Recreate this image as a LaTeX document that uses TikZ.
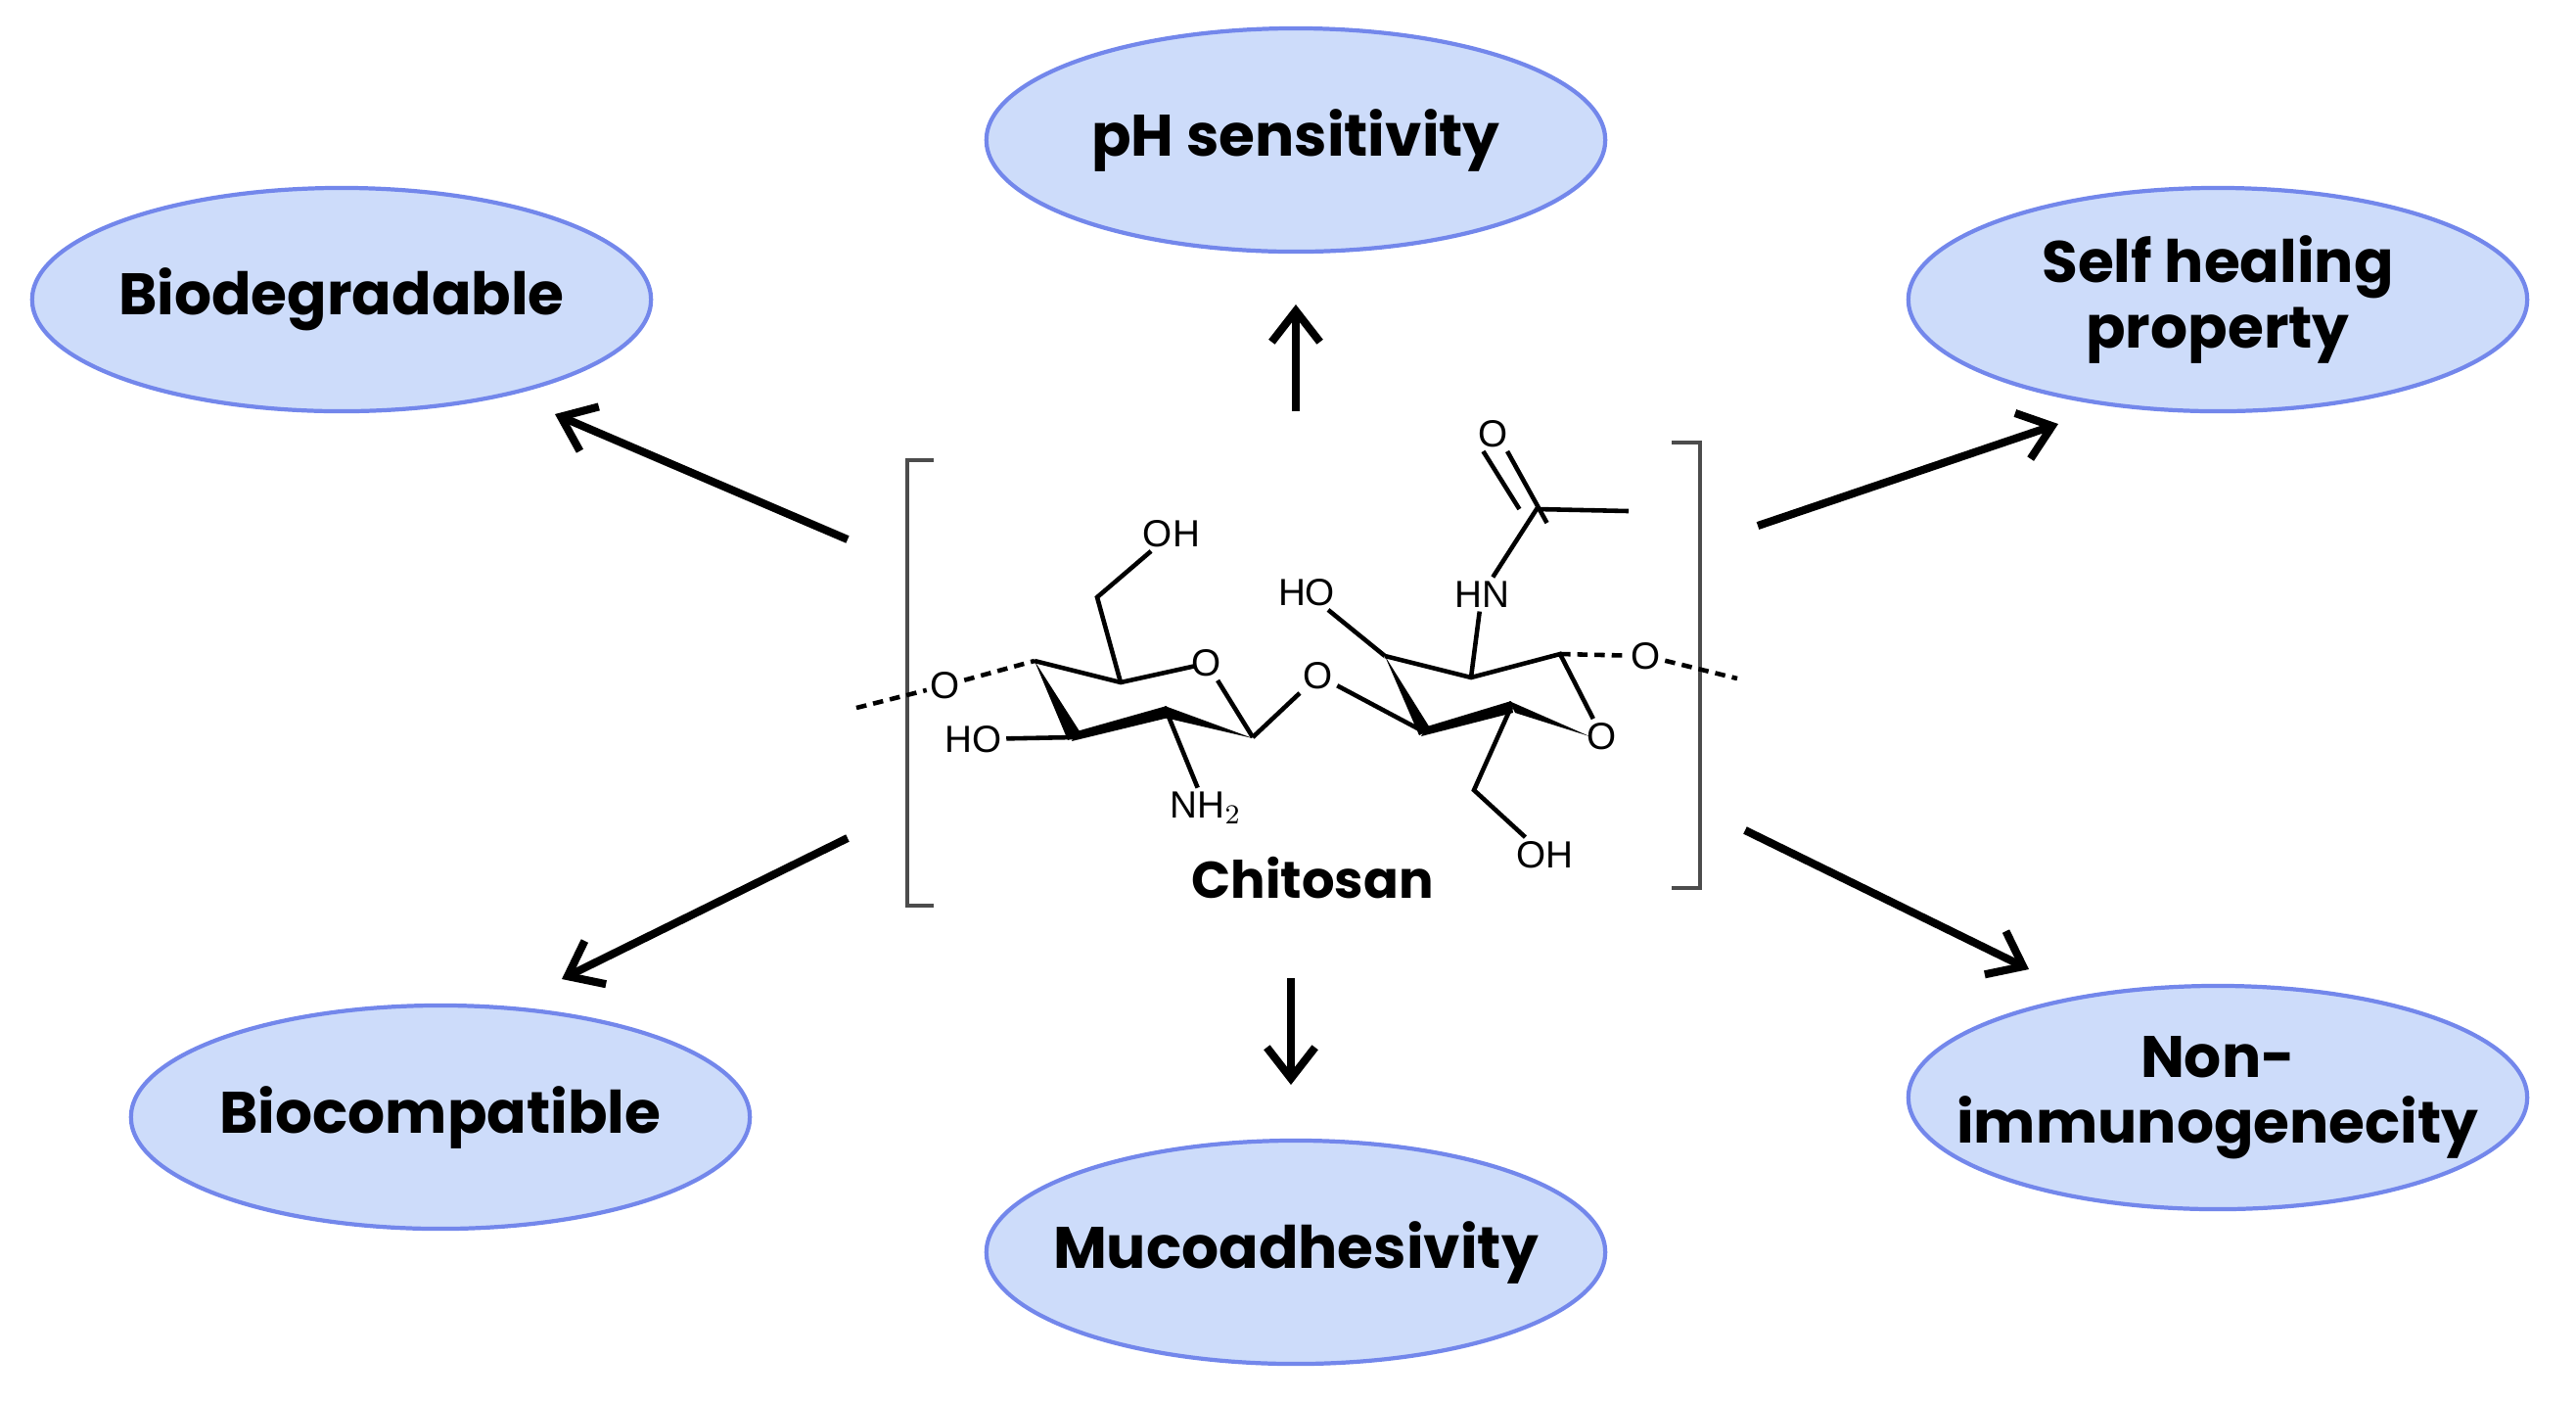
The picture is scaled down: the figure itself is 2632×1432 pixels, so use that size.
\documentclass[tikz,border=0pt]{standalone}
\usepackage{fontspec}
\setmainfont{Poppins}
\newfontfamily\chemf{Liberation Sans}
\usetikzlibrary{shapes.geometric,arrows.meta}
\definecolor{efill}{RGB}{205,220,250}
\definecolor{edraw}{RGB}{115,135,235}
\begin{document}
\begin{tikzpicture}[x=0.01cm,y=-0.01cm,
  prop/.style={ellipse,draw=edraw,line width=1.2pt,fill=efill,minimum width=6.32cm,minimum height=2.28cm,inner sep=0pt},
  ptxt/.style={label={[align=center,font=\fontsize{17}{19}\selectfont\bfseries]center:#1}},
  ar/.style={line width=2.3pt,->,>={Straight Barb[length=9pt,width=14pt,line width=2.3pt]}},
  bd/.style={line width=1.3pt},
  lb/.style={font=\chemf\fontsize{11}{11}\selectfont,inner sep=1pt},
  br/.style={line width=1.3pt,draw=black!70}]
\useasboundingbox (0,0) rectangle (2632,1432);
\node[prop,ptxt={pH sensitivity}] (ph) at (1324,143) {};
\node[prop,ptxt={Biodegradable}] (bd) at (349,306) {};
\node[prop,ptxt={Self healing\\property}] (sh) at (2266,306) {};
\node[prop,ptxt={Biocompatible}] (bc) at (450,1141) {};
\node[prop,ptxt={Mucoadhesivity}] (mu) at (1324,1279) {};
\node[prop,ptxt={Non-\\immunogenecity}] (ni) at (2266,1121) {};
% arrows
\coordinate (a1) at (1324,420); \coordinate (b1) at (1324,311);
\coordinate (a2) at (866,551); \coordinate (b2) at (567,423);
\coordinate (a3) at (1796,537); \coordinate (b3) at (2103,433);
\coordinate (a4) at (866,856); \coordinate (b4) at (574,1000);
\coordinate (a5) at (1319,999); \coordinate (b5) at (1319,1108);
\coordinate (a6) at (1783,848); \coordinate (b6) at (2073,990);
\foreach \i in {1,...,6} \draw[ar] (a\i) -- (b\i);
% brackets
\draw[br] (954,470) -- (927,470) -- (927,925) -- (954,925);
\draw[br] (1708,452) -- (1737,452) -- (1737,907) -- (1708,907);
% ring 1
\coordinate (c4) at (1057,675); \coordinate (c5) at (1145,697);
\coordinate (o5) at (1233,677); \coordinate (c1) at (1280,753);
\coordinate (c2) at (1192,727); \coordinate (c3) at (1098,753);
\node[lb] (oL) at (966,700) {O};
\draw[bd,dash pattern=on 3pt off 2pt] (875,723) -- (oL) -- (c4);
\draw[bd] (c4) -- (c5) -- (1222,680);
\node[lb] (o5n) at (o5) {O};
\draw[bd] (o5n) -- (c1);
\fill (c4) -- (1091,756) -- (1105,750) -- cycle;
\fill (1095,757) -- (1100,747) -- (1192,721) -- (1194,733) -- cycle;
\fill (1190,721) -- (1190,733) -- (1280,754) -- cycle;
\coordinate (ch) at (1121,610);
\node[lb] (oh1) at (1197,545) {OH};
\draw[bd] (c5) -- (ch) -- (oh1);
\node[lb] (ho1) at (995,755) {HO};
\draw[bd] (ho1) -- (c3);
\node[lb] (nh2) at (1232,825) {NH$_2$};
\draw[bd] (c2) -- (nh2);
% glycosidic O
\node[lb] (og) at (1347,690) {O};
\coordinate (d1) at (1415,670); \coordinate (d2) at (1503,692);
\coordinate (d3) at (1594,668); \coordinate (d5) at (1544,722);
\coordinate (d6) at (1456,748);
\node[lb] (od) at (1637,752) {O};
\draw[bd] (c1) -- (og) -- (d6);
\draw[bd] (d1) -- (d2) -- (d3) -- (od);
\fill (d1) -- (1450,751) -- (1462,745) -- cycle;
\fill (1452,752) -- (1458,742) -- (1544,716) -- (1546,728) -- cycle;
\fill (1542,716) -- (1624,752) -- (1548,728) -- cycle;
\node[lb] (ho2) at (1335,605) {HO};
\draw[bd] (d1) -- (ho2);
\node[lb] (hn) at (1514,607) {HN};
\coordinate (cc) at (1570,520); \coordinate (me) at (1664,522);
\node[lb] (oc) at (1526,443) {O};
\draw[bd] (d2) -- (hn) -- (cc) -- (me);
\draw[bd] ([xshift=-3]oc.south) -- ([xshift=-5]cc);
\draw[bd] ([xshift=4]oc.south) -- ([xshift=3,yshift=-4]cc);
\node[lb] (or) at (1682,670) {O};
\draw[bd,dash pattern=on 3pt off 2pt] (d3) -- (or) -- (1775,693);
\coordinate (ch2) at (1506,807);
\node[lb] (oh2) at (1578,873) {OH};
\draw[bd] (d5) -- (ch2) -- (oh2);
\node[font=\fontsize{15}{15}\selectfont\bfseries] (chi) at (1341,897) {Chitosan};
\end{tikzpicture}
\end{document}
